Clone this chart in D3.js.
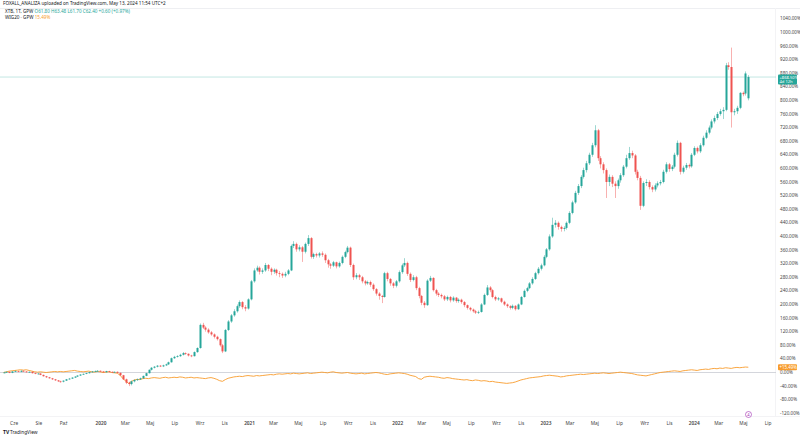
<!DOCTYPE html>
<html><head><meta charset="utf-8">
<script src="https://cdn.jsdelivr.net/npm/d3@7"></script>
<style>html,body{margin:0;padding:0;background:#fff;}svg{display:block;font-family:"Noto Sans",Roboto,sans-serif;}</style>
</head><body><svg id="c" width="800" height="437"></svg>
<script>
// weekly bars, percent change vs first bar
const firstWeek = "2019-05-06";
const opens = [
-1,0,2,-1,3,4,2,5,3,1,
2,-2,-4,-3,-7,-11,-14,-17,-20,-23,
-26,-27,-24,-20,-18,-15,-12,-9,-6,-4,
-2,1,3,4,5,3,1,4,2,0,
2,-1,-8,-20,-30,-34,-26,-22,-20,-17,
-10,-2,8,14,17,20,18,21,24,30,
42,46,48,52,57,55,50,48,60,72,
140,132,126,118,112,105,98,80,62,125,
150,168,180,195,207,192,188,215,268,300,
308,296,300,316,305,296,302,292,290,285,
290,300,372,378,362,368,355,378,395,340,
348,344,350,346,330,318,314,324,312,322,
340,354,367,316,280,286,280,268,262,266,
258,245,232,225,222,292,275,262,255,268,
295,315,322,290,272,280,248,225,205,198,
270,278,242,232,228,224,215,222,212,220,
210,214,207,198,190,185,180,176,178,200,
228,250,242,222,215,218,208,200,195,190,
196,186,200,222,240,248,262,275,292,305,
315,340,362,400,434,440,428,422,425,440,
469,500,528,548,575,595,615,640,668,712,
630,612,595,560,575,555,548,565,580,605,
630,645,638,590,572,490,557,560,545,538,
550,556,560,590,612,598,605,640,675,590,
602,610,606,640,660,650,668,690,705,720,
738,748,760,768,772,903,898,765,768,778,
822,820,806];
const highs = [
2,3,3,4,6,5,6,6,4,3,
3,-1,-2,-2,-6,-10,-13,-16,-19,-22,
-24,-23,-19,-16,-14,-11,-8,-5,-3,-1,
2,4,6,7,6,4,5,5,3,3,
3,0,-7,-18,-27,-24,-20,-18,-15,-9,
-1,9,16,19,22,22,23,26,32,44,
49,51,55,60,59,56,52,62,74,144,
146,136,130,122,115,108,100,84,128,154,
172,186,200,212,210,198,218,272,306,314,
312,306,322,319,309,306,305,298,294,296,
304,376,386,382,374,372,382,404,398,352,
352,354,356,350,334,322,328,326,326,344,
358,372,370,320,292,290,284,272,270,270,
262,248,236,228,296,296,278,266,272,300,
320,336,326,294,286,284,252,228,210,274,
284,280,246,236,232,228,226,225,224,222,
218,217,210,200,193,188,184,182,204,232,
257,254,245,226,222,220,211,203,198,200,
198,203,225,244,252,266,280,296,310,320,
345,366,406,455,448,444,432,430,444,474,
505,534,554,580,602,622,646,675,727,716,
636,618,600,582,580,562,570,586,610,640,
663,652,642,596,578,562,568,565,550,556,
562,566,596,618,616,610,646,682,678,608,
616,614,645,665,664,674,696,712,726,744,
755,766,775,780,910,912,955,775,784,824,
826,885,874];
const lows = [
-2,-1,-2,-2,2,1,1,2,0,0,
-3,-5,-6,-8,-12,-16,-18,-22,-25,-28,
-30,-29,-25,-21,-19,-16,-13,-10,-7,-5,
-3,0,2,3,2,0,0,1,-1,-1,
-2,-10,-22,-34,-40,-38,-29,-25,-22,-18,
-11,-3,6,12,15,16,16,19,22,29,
40,44,46,50,52,47,45,47,58,70,
128,120,114,108,100,94,76,57,60,122,
146,164,176,190,186,180,185,212,264,296,
288,290,296,298,286,290,285,280,278,280,
286,298,366,355,356,325,350,372,335,334,
338,338,340,322,308,305,310,306,308,318,
336,350,310,272,274,272,262,256,258,252,
240,226,214,204,220,268,255,248,250,264,
290,310,284,266,268,242,218,198,190,196,
266,238,226,222,218,210,210,206,208,205,
205,202,192,185,180,176,172,172,176,198,
225,236,218,210,211,204,196,190,185,186,
182,184,198,220,236,245,258,272,288,300,
312,336,358,396,426,420,414,415,420,436,
465,496,522,542,570,588,610,634,662,622,
600,585,513,548,545,513,540,558,575,600,
625,630,582,565,478,486,548,538,530,532,
544,550,556,585,590,592,600,635,582,585,
596,600,602,636,644,645,664,686,700,715,
732,742,755,745,768,890,720,756,760,774,
812,814,800];
const closes = [
0,2,-1,3,4,2,5,3,1,2,
-2,-4,-3,-7,-11,-14,-17,-20,-23,-26,
-27,-24,-20,-18,-15,-12,-9,-6,-4,-2,
1,3,4,5,3,1,4,2,0,2,
-1,-8,-20,-30,-34,-26,-22,-20,-17,-10,
-2,8,14,17,20,18,21,24,30,42,
46,48,52,57,55,50,48,60,72,140,
132,126,118,112,105,98,80,62,125,150,
168,180,195,207,192,188,215,268,300,308,
296,300,316,305,296,302,292,290,285,290,
300,372,378,362,368,355,378,395,340,348,
344,350,346,330,318,314,324,312,322,340,
354,367,316,280,286,280,268,262,266,258,
245,232,225,222,292,275,262,255,268,295,
315,322,290,272,280,248,225,205,198,270,
278,242,232,228,224,215,222,212,220,210,
214,207,198,190,185,180,176,178,200,228,
250,242,222,215,218,208,200,195,190,196,
186,200,222,240,248,262,275,292,305,315,
340,362,400,434,440,428,422,425,440,469,
500,528,548,575,595,615,640,668,712,630,
612,595,560,575,555,548,565,580,605,630,
645,638,590,572,490,557,560,545,538,550,
556,560,590,612,598,605,640,675,590,602,
610,606,640,660,650,668,690,705,720,738,
748,760,768,772,903,898,765,768,778,822,
818,879,868.5];
// WIG20 comparison line (percent)
const wig20 = [
0,2,4,5,6,7,8,7,8,6,
4,2,1,2,1,0,1,2,3,2,
3,2,3,4,5,6,4,3,2,3,
4,2,1,3,2,0,1,2,0,-1,
-2,-8,-18,-25,-32,-26,-22,-20,-21,-18,
-17,-18,-16,-15,-16,-17,-15,-14,-16,-15,
-14,-15,-13,-14,-16,-15,-14,-16,-15,-16,
-17,-18,-16,-15,-17,-20,-24,-26,-21,-17,
-15,-13,-12,-11,-12,-10,-9,-10,-11,-9,
-10,-9,-8,-7,-6,-7,-5,-4,-5,-4,
-3,-4,-2,-3,-4,-3,-2,-1,-3,-2,
-1,0,1,0,-1,1,2,0,-1,-2,
-1,0,-2,-3,-4,-3,-2,-4,-3,-2,
-1,0,-1,-3,-5,-6,-4,-3,-2,-1,
-2,-3,-5,-8,-10,-12,-18,-20,-14,-12,
-11,-12,-13,-14,-16,-17,-15,-16,-18,-19,
-20,-21,-22,-21,-23,-24,-22,-23,-25,-24,
-25,-27,-26,-28,-29,-30,-31,-32,-31,-30,
-28,-25,-22,-20,-18,-16,-15,-14,-13,-12,
-10,-9,-8,-9,-10,-11,-13,-12,-10,-9,
-8,-7,-6,-5,-6,-5,-4,-3,-2,-3,
-2,-1,-2,-3,-2,-1,0,1,0,-1,
-2,-3,-5,-7,-8,-9,-10,-8,-6,-4,
-2,0,1,2,3,4,5,4,3,5,
6,7,8,7,6,8,9,10,9,11,
12,11,13,12,14,13,12,14,15,14,
15,16,15.49];
const yTickValues = [-120,-80,-40,0,40,80,120,160,200,240,280,320,360,400,440,480,520,560,600,640,680,720,760,800,840,880,920,960,1000,1040];
const timeLabelDates = ["2019-06-01","2019-08-01","2019-10-01","2020-01-01","2020-03-01","2020-05-01","2020-07-01","2020-09-01","2020-11-01","2021-01-01","2021-03-01","2021-05-01","2021-07-01","2021-09-01","2021-11-01","2022-01-01","2022-03-01","2022-05-01","2022-07-01","2022-09-01","2022-11-01","2023-01-01","2023-03-01","2023-05-01","2023-07-01","2023-09-01","2023-11-01","2024-01-01","2024-03-01","2024-05-01","2024-07-01"];
const timeLabels = ["Cze","Sie","Paź","2020","Mar","Maj","Lip","Wrz","Lis","2021","Mar","Maj","Lip","Wrz","Lis","2022","Mar","Maj","Lip","Wrz","Lis","2023","Mar","Maj","Lip","Wrz","Lis","2024","Mar","Maj","Lip"];
const headerLine = "FOXALL_ANALIZA uploaded on TradingView.com, May 13, 2024 11:54 UTC+2";
const mainSymbol = "XTB, 1T, GPW";
const compareSymbol = "WIG20 · GPW";

const parse = d3.utcParse("%Y-%m-%d");
const W = 800, H = 437;
const svg = d3.select("#c");
const green = "#26a69a", red = "#ef5350", orange = "#f89c2c";

const x = d3.scaleUtc().domain([parse("2020-01-01"), parse("2024-01-01")]).range([101, 694.3]);
const y = d3.scaleLinear().domain([0, 1000]).range([372.5, 32.3]);
const start = parse(firstWeek);
const bars = closes.map((c, i) => ({d: d3.utcDay.offset(start, 7 * i), o: opens[i], h: highs[i], l: lows[i], c}));
const last = bars[bars.length - 1];
const lastW = wig20[wig20.length - 1];

// pane borders
svg.append("line").attr("x1", 0).attr("x2", W).attr("y1", 8.5).attr("y2", 8.5).attr("stroke", "#eeeff2");
svg.append("line").attr("x1", 775.5).attr("x2", 775.5).attr("y1", 8).attr("y2", 416).attr("stroke", "#f3f3f5");
svg.append("line").attr("x1", 0).attr("x2", W).attr("y1", 416.5).attr("y2", 416.5).attr("stroke", "#f3f3f5");

// baseline (0%) and last price line
svg.append("line").attr("x1", 0).attr("x2", 776).attr("y1", y(0)).attr("y2", y(0)).attr("stroke", "#c9ccd3").attr("stroke-width", 0.8);
svg.append("line").attr("x1", 0).attr("x2", 776).attr("y1", y(last.c)).attr("y2", y(last.c)).attr("stroke", green).attr("stroke-opacity", 0.35).attr("stroke-width", 0.8);

// comparison line
const line = d3.line().x((d, i) => x(bars[i].d)).y(d => y(d));
svg.append("path").datum(wig20).attr("d", line).attr("fill", "none").attr("stroke", orange).attr("stroke-width", 0.9);

// candles
const g = svg.append("g");
g.selectAll("line.w").data(bars).join("line").attr("class", "w")
  .attr("x1", d => Math.round(x(d.d)) + 0.5).attr("x2", d => Math.round(x(d.d)) + 0.5)
  .attr("y1", d => y(d.h)).attr("y2", d => y(d.l))
  .attr("stroke", d => d.c >= d.o ? green : red).attr("stroke-opacity", 0.45).attr("stroke-width", 1);
g.selectAll("rect").data(bars).join("rect")
  .attr("x", d => Math.round(x(d.d)) - 0.5).attr("width", 2)
  .attr("y", d => y(Math.max(d.o, d.c))).attr("height", d => Math.max(0.8, Math.abs(y(d.o) - y(d.c))))
  .attr("fill", d => d.c >= d.o ? green : red);

// right axis
const ax = svg.append("g").attr("font-size", 4.6).attr("fill", "#444");
ax.selectAll("text").data(yTickValues)
  .join("text").attr("x", 780).attr("y", d => y(d) + 1.6).text(d => d.toFixed(2) + "%");

// last price label (two lines: value and countdown)
const boxTop = y(last.c) - 2.5, boxBot = y(last.c) + 7.4;
svg.append("rect").attr("x", 778).attr("y", boxTop).attr("width", 19).attr("height", boxBot - boxTop).attr("fill", green).attr("rx", 1);
svg.append("text").attr("x", 779.5).attr("y", y(last.c) + 1.5).attr("font-size", 4.1).attr("fill", "#fff").text("+" + last.c.toFixed(2) + "%");
svg.append("text").attr("x", 779.5).attr("y", y(last.c) + 6.2).attr("font-size", 4.1).attr("fill", "#fff").text("4d 12h");
// compare label
svg.append("rect").attr("x", 778).attr("y", y(lastW) - 3).attr("width", 19).attr("height", 6).attr("fill", orange).attr("rx", 1);
svg.append("text").attr("x", 779.5).attr("y", y(lastW) + 1.5).attr("font-size", 4.4).attr("fill", "#fff").text("+" + lastW.toFixed(2) + "%");

// time axis
const tx = svg.append("g").attr("font-size", 4.8).attr("fill", "#444").attr("text-anchor", "middle");
tx.selectAll("text").data(timeLabels).join("text")
  .attr("x", (d, i) => x(parse(timeLabelDates[i]))).attr("y", 424.5)
  .attr("font-weight", d => /^\d{4}$/.test(d) ? 600 : 400).text(d => d);

// event marker
svg.append("circle").attr("cx", 748.5).attr("cy", 414.5).attr("r", 3).attr("fill", "#fff").attr("stroke", "#9c27b0").attr("stroke-width", 0.6);
svg.append("text").attr("x", 748.5).attr("y", 416).attr("font-size", 4).attr("fill", "#9c27b0").attr("text-anchor", "middle").text("4");

// header & legend
const hd = svg.append("g").attr("font-size", 4.6).attr("fill", "#131722");
hd.append("text").attr("x", 3).attr("y", 5).text(headerLine);
const l2 = hd.append("text").attr("x", 5).attr("y", 13);
l2.append("tspan").text(mainSymbol + "  ");
l2.append("tspan").attr("fill", green).text("O61.80 H63.48 L61.70 C62.40 +0.60 (+0.97%)");
const l3 = hd.append("text").attr("x", 5).attr("y", 19);
l3.append("tspan").text(compareSymbol + "  ");
l3.append("tspan").attr("fill", orange).text(lastW.toFixed(2) + "%");

// logo
const lg = svg.append("g");
lg.append("text").attr("x", 3).attr("y", 434).attr("font-size", 5).attr("font-weight", 700).attr("fill", "#131722").text("TV");
lg.append("text").attr("x", 10).attr("y", 434).attr("font-size", 4.8).attr("fill", "#131722").text("TradingView");
</script></body></html>
